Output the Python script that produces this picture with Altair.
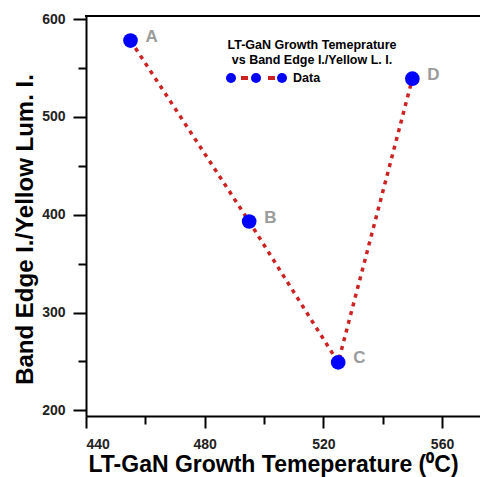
import altair as alt
import pandas as pd

# Data
temps = [455, 495, 525, 550]
ratios = [578, 393, 249, 539]
point_labels = ["A", "B", "C", "D"]

x_major = [440, 480, 520, 560]
x_minor = [460, 500, 540]
y_major = [200, 300, 400, 500, 600]
y_minor = [250, 350, 450, 550]

legend_title = ["LT-GaN Growth Temeprature", "vs Band Edge I./Yellow L. I."]
legend_label = "Data"

df = pd.DataFrame({"temp": temps, "ratio": ratios, "lab": point_labels})

W, H = 394, 400
FONT = "Liberation Sans"
RED = "#cc2222"
BLUE = "#0000ff"

xs = alt.Scale(domain=[440, 572.8], nice=False, zero=False)
ys = alt.Scale(domain=[194.2, 603.1], nice=False, zero=False)

major_x = alt.Axis(values=x_major, orient="bottom", tickSize=12, tickWidth=2, domainWidth=2,
                   domainColor="black", tickColor="black", labelPadding=9,
                   labelFont=FONT, labelFontSize=14, labelFontWeight="bold", labelColor="#222222",
                   grid=False, title="LT-GaN Growth Temeperature (⁰C)", titleFont=FONT,
                   titleFontSize=23, titleFontWeight="bold", titleColor="black",
                   titleBaseline="alphabetic", titleY=55, titleX=187)
major_y = alt.Axis(values=y_major, orient="left", tickSize=13, tickWidth=2, domainWidth=2,
                   domainColor="black", tickColor="black", labelPadding=8,
                   labelFont=FONT, labelFontSize=14, labelFontWeight="bold", labelColor="#222222",
                   grid=False, title="Band Edge I./Yellow Lum. I.", titleFont=FONT,
                   titleFontSize=24, titleFontWeight="bold", titleColor="black",
                   titleBaseline="alphabetic", titleX=-54, titleY=213, titleAngle=270)
minor_x = alt.Axis(values=x_minor, orient="bottom", tickSize=8, tickWidth=2, tickColor="black",
                   domain=False, labels=False, grid=False, title=None)
minor_y = alt.Axis(values=y_minor, orient="left", tickSize=8, tickWidth=2, tickColor="black",
                   domain=False, labels=False, grid=False, title=None)

base = alt.Chart(df)

line = base.mark_line(color=RED, strokeDash=[4, 5], strokeWidth=3.5).encode(
    x=alt.X("temp:Q", scale=xs, axis=major_x),
    y=alt.Y("ratio:Q", scale=ys, axis=major_y),
)
pts = base.mark_circle(size=215, color=BLUE, opacity=1).encode(
    x=alt.X("temp:Q", scale=xs, axis=minor_x),
    y=alt.Y("ratio:Q", scale=ys, axis=minor_y),
)
labs = base.mark_text(align="left", baseline="middle", dx=15, dy=-4, font=FONT,
                      fontSize=17, fontWeight="bold", color="#9b9b9b").encode(
    x=alt.X("temp:Q", scale=xs, axis=None),
    y=alt.Y("ratio:Q", scale=ys, axis=None),
    text="lab:N",
)

one = alt.Data(values=[{}])
top_rule = alt.Chart(one).mark_rule(color="black", strokeWidth=2).encode(
    x=alt.value(-1), x2=alt.value(W), y=alt.value(0))

leg_layers = []
for i, t in enumerate(legend_title):
    leg_layers.append(alt.Chart(one).mark_text(align="center", baseline="middle", font=FONT,
                                               fontSize=12.5, fontWeight="bold", color="black").encode(
        x=alt.value(226), y=alt.value(29 + 15 * i), text=alt.value(t)))
leg_layers.append(alt.Chart(one).mark_rule(color=RED, strokeWidth=4, strokeDash=[7, 20]).encode(
    x=alt.value(155), x2=alt.value(191), y=alt.value(62)))
for px in [145, 170, 196]:
    leg_layers.append(alt.Chart(one).mark_circle(size=100, color=BLUE, opacity=1).encode(
        x=alt.value(px), y=alt.value(62)))
leg_layers.append(alt.Chart(one).mark_text(align="left", baseline="middle", font=FONT,
                                           fontSize=12.5, fontWeight="bold", color="black").encode(
    x=alt.value(207), y=alt.value(62), text=alt.value(legend_label)))

chart = alt.layer(line, pts, labs, top_rule, *leg_layers).resolve_axis(
    x="independent", y="independent"
).properties(
    width=W, height=H,
    autosize=alt.AutoSizeParams(type="none"),
    padding={"left": 86, "top": 16, "right": 0, "bottom": 61},
    background="white",
).configure_view(stroke=None)

chart.save("out.html", embed_options={"renderer": "svg", "actions": False})
